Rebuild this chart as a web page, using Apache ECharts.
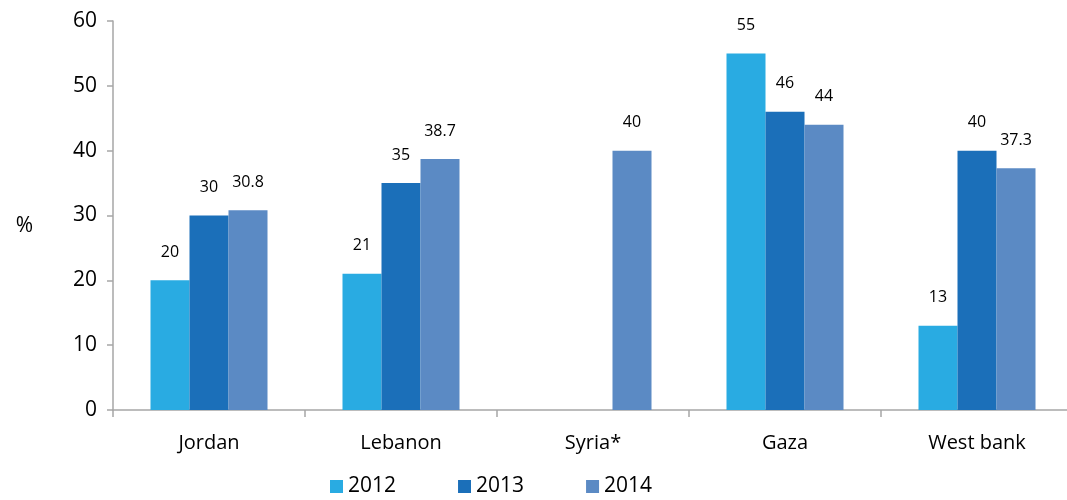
<!DOCTYPE html>
<html lang="en">
<head>
<meta charset="UTF-8">
<title>Bar chart</title>
<script src="https://cdn.jsdelivr.net/npm/echarts@6/dist/echarts.min.js"></script>
<style>
	html,body{margin:0;padding:0;background:#fff;}
	#main{width:1067px;height:500px;}
</style>
</head>
<body>
<div id="main"></div>
<script type="text/javascript">
	var categories = ['Jordan', 'Lebanon', 'Syria*', 'Gaza', 'West bank'];
	var years = ['2012', '2013', '2014'];
	var values2012 = [20, 21, null, 55, 13];
	var values2013 = [30, 35, null, 46, 40];
	var values2014 = [30.8, 38.7, 40, 44, 37.3];
	var yTicks = [0, 10, 20, 30, 40, 50, 60];

	var colors = ['#29ABE2', '#1B6FB9', '#5B8AC4'];
	var font = '"Open Sans", sans-serif';

	function makeSeries(name, data, color){
		return {
			name: name, type: 'bar', data: data,
			barWidth: 39, barGap: '0%',
			itemStyle: {color: color},
			label: {
				show: true, position: 'top', distance: 20,
				color: '#000', fontSize: 16, fontFamily: font
			}
		};
	}

	var myChart = echarts.init(document.getElementById('main'));
	var option = {
		animation: false,
		color: colors,
		grid: {left: 113, width: 960, top: 21, bottom: 90, containLabel: false, outerBoundsMode: 'none'},
		legend: {
			bottom: -2, left: 325,
			itemWidth: 13, itemHeight: 13, itemGap: 62,
			icon: 'rect',
			textStyle: {fontSize: 21, color: '#000', fontFamily: font},
			data: years
		},
		xAxis: {
			type: 'category', data: categories,
			axisLine: {lineStyle: {color: '#A6A6A6', width: 1.5}},
			axisTick: {show: true, length: 7, alignWithLabel: false, lineStyle: {color: '#A6A6A6', width: 1.5}},
			axisLabel: {color: '#000', fontSize: 20, fontFamily: font, margin: 23}
		},
		yAxis: {
			type: 'value', min: yTicks[0], max: yTicks[yTicks.length - 1], interval: 10,
			name: '%', nameLocation: 'middle', nameRotate: 0, nameGap: 80,
			nameTextStyle: {color: '#000', fontSize: 21, fontFamily: font, verticalAlign: 'top'},
			axisLine: {show: true, lineStyle: {color: '#A6A6A6', width: 1.5}},
			axisTick: {show: true, length: 6, lineStyle: {color: '#A6A6A6', width: 1.5}},
			splitLine: {show: false},
			axisLabel: {color: '#000', fontSize: 21, fontFamily: font, margin: 16}
		},
		series: [
			makeSeries(years[0], values2012, colors[0]),
			makeSeries(years[1], values2013, colors[1]),
			makeSeries(years[2], values2014, colors[2])
		]
	};
	myChart.setOption(option);
</script>
</body>
</html>
